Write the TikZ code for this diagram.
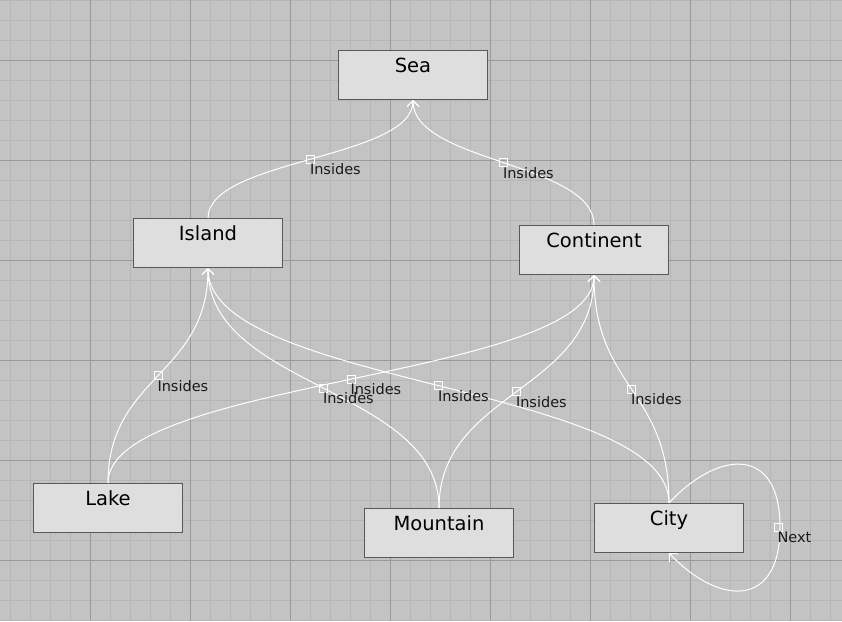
\documentclass[tikz,border=0pt]{standalone}
\usepackage{fontspec}
\setmainfont{DejaVu Sans}
\usetikzlibrary{arrows.meta,calc}
\definecolor{bgc}{HTML}{C3C3C3}
\definecolor{minorc}{HTML}{B6B6B6}
\definecolor{majorc}{HTML}{9A9A9A}
\definecolor{boxfill}{HTML}{DEDEDE}
\definecolor{boxline}{HTML}{585858}
\definecolor{labc}{HTML}{1A1A1A}
\tikzset{
  minorline/.style={draw=minorc, line width=1pt},
  majorline/.style={draw=majorc, line width=1pt},
  entity/.style={draw=boxline, fill=boxfill, line width=1pt, anchor=north west,
    minimum width=149pt, minimum height=49pt, text height=21.5pt, text depth=27.5pt,
    inner sep=0pt, font=\fontsize{19.5}{20}\selectfont},
  conn/.style={draw=white, line width=1pt, -{Straight Barb[length=6pt,width=12pt]}},
  sq/.style={draw=white, line width=1pt, minimum size=8pt, inner sep=0pt, shape=rectangle},
  lab/.style={anchor=base west, inner sep=0pt, xshift=-1pt, yshift=-15.5pt,
    text=labc, font=\fontsize{14.5}{16}\selectfont},
}
\newcommand\vlink[3]{%
  \path ($(#1.north)!0.5!(#2.south)$) coordinate (m-#1-#2);
  \draw[conn] (#1.north) .. controls (#1.north |- m-#1-#2) and (#2.south |- m-#1-#2) .. (#2.south)
    node[pos=0.5,sq]{} node[pos=0.5,lab]{#3};
}
\begin{document}
\begin{tikzpicture}[x=1pt,y=-1pt]
\useasboundingbox (0,0) rectangle (842,621);
\fill[bgc] (0,0) rectangle (842,621);
\foreach \x in {10,30,...,830} \draw[minorline] (\x,0) -- (\x,621);
\foreach \y in {0,20,...,620} \draw[minorline] (0,\y) -- (842,\y);
\foreach \x in {90,190,...,790} \draw[majorline] (\x,0) -- (\x,621);
\foreach \y in {60,160,...,560} \draw[majorline] (0,\y) -- (842,\y);

\node[entity] (sea) at (338,50) {Sea};
\node[entity] (island) at (133,218) {Island};
\node[entity] (continent) at (519,225) {Continent};
\node[entity] (lake) at (33,483) {Lake};
\node[entity] (mountain) at (364,508) {Mountain};
\node[entity] (city) at (594,503) {City};

\vlink{island}{sea}{Insides}
\vlink{continent}{sea}{Insides}
\vlink{lake}{island}{Insides}
\vlink{lake}{continent}{Insides}
\vlink{mountain}{island}{Insides}
\vlink{mountain}{continent}{Insides}
\vlink{city}{island}{Insides}
\vlink{city}{continent}{Insides}

\coordinate (nextpt) at (780,527);
\draw[conn] (city.north) .. controls (718,450) and (780,445) .. (nextpt)
  node[pos=1,sq,xshift=-2pt]{} node[pos=1,lab,xshift=-2pt]{Next}
  .. controls (780,610) and (718,605) .. (city.south);
\end{tikzpicture}
\end{document}
